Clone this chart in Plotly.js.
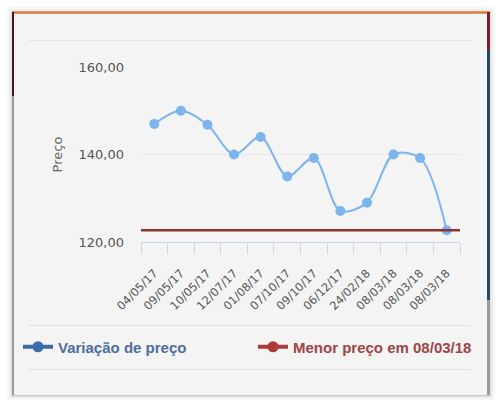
<!DOCTYPE html>
<html>
<head>
<meta charset="utf-8">
<script src="https://cdn.plot.ly/plotly-3.0.1.min.js"></script>
<style>html,body{margin:0;padding:0;background:#fff}#chart{width:500px;height:404px}</style>
</head>
<body>
<div id="chart"></div>
<script>
// ---- data ----
const datas = ['04/05/17','09/05/17','10/05/17','12/07/17','01/08/17','07/10/17','09/10/17','06/12/17','24/02/18','08/03/18','08/03/18','08/03/18'];
const precos = [147.0, 150.0, 146.8, 140.0, 144.0, 135.0, 139.2, 127.1, 129.0, 140.0, 139.2, 122.7];
const menorPreco = 122.7;
const yTicks = [120, 140, 160];
const nomeSerie = 'Variação de preço';
const nomeMenor = 'Menor preço em 08/03/18';

// ---- geometry helpers (layout only) ----
const Wd = 500, Ht = 404;
const mL = 141, mR = 40, mT = 67, mB = 162;
const PW = Wd - mL - mR, PH = Ht - mT - mB;
const fx = px => (px - mL) / PW;
const fy = py => (Ht - mB - py) / PH;

const idx = datas.map((d, i) => i);

const traces = [
  {
    x: idx, y: precos, type: 'scatter', mode: 'lines+markers',
    line: {color: '#7cb5ec', width: 2, shape: 'spline', smoothing: 0.9},
    marker: {color: '#7cb5ec', size: 10},
    showlegend: false, hoverinfo: 'skip'
  },
  {
    x: [null], y: [null], type: 'scatter', mode: 'lines+markers', legend: 'legend',
    name: '<b><span style="color:#4d6e9c">' + nomeSerie + '</span></b>',
    line: {color: '#3a6ca8', width: 4}, marker: {color: '#3a6ca8', size: 11}
  },
  {
    x: [null], y: [null], type: 'scatter', mode: 'lines+markers', legend: 'legend2',
    name: '<b><span style="color:#9c4646">' + nomeMenor + '</span></b>',
    line: {color: '#b03a3a', width: 4}, marker: {color: '#b03a3a', size: 11}
  }
];

function rect(x0, y0, x1, y1, fill) {
  return {type: 'rect', xref: 'paper', yref: 'paper', x0: fx(x0), x1: fx(x1), y0: fy(y1), y1: fy(y0),
          fillcolor: fill, line: {width: 0}, layer: 'below'};
}
function hline(x0, x1, y, color, w) {
  return {type: 'line', xref: 'paper', yref: 'paper', x0: fx(x0), x1: fx(x1), y0: fy(y), y1: fy(y),
          line: {color: color, width: w}, layer: 'below'};
}
function vline(x, y0, y1, color, w) {
  return {type: 'line', xref: 'paper', yref: 'paper', x0: fx(x), x1: fx(x), y0: fy(y0), y1: fy(y1),
          line: {color: color, width: w}, layer: 'below'};
}

const shapes = [
  rect(7, 7, 495, 400, 'rgba(0,0,0,0.03)'),
  rect(9, 9, 493, 398, 'rgba(0,0,0,0.04)'),
  rect(11, 11, 491, 397, 'rgba(0,0,0,0.06)'),
  rect(12, 12, 490, 396, '#f4f4f4'),
  hline(12, 490, 12.5, '#e6a070', 3),
  hline(12, 490, 12.5, '#d9793a', 1.5),
  vline(13, 12, 96, '#4c1519', 2),
  vline(13, 96, 396, '#9a9a9a', 2),
  vline(488.5, 12, 50, '#7d1c2d', 3),
  vline(488.5, 50, 300, '#1f4c68', 3),
  vline(488.5, 300, 396, '#9a9a9a', 3),
  hline(12, 490, 395.5, '#c8c8c8', 1),
  hline(29, 471, 40.5, '#e3e3e3', 1),
  hline(28, 471, 325.5, '#e3e3e3', 1),
  hline(28, 471, 369.5, '#e3e3e3', 1),
  {type: 'line', xref: 'paper', yref: 'y', x0: 0, x1: 1, y0: menorPreco, y1: menorPreco,
   line: {color: '#8a3434', width: 2.5}, layer: 'above'}
];

const legFont = {family: 'Liberation Sans, Arial, sans-serif', size: 15};

const layout = {
  width: Wd, height: Ht,
  margin: {l: mL, r: mR, t: mT, b: mB, pad: 0},
  paper_bgcolor: '#ffffff',
  plot_bgcolor: 'rgba(0,0,0,0)',
  separators: ', ',
  font: {family: 'DejaVu Sans, Verdana, sans-serif', color: '#555'},
  showlegend: true,
  legend: {
    orientation: 'h', x: fx(18), xanchor: 'left', y: fy(347), yanchor: 'middle',
    bgcolor: 'rgba(0,0,0,0)', font: legFont, itemwidth: 30
  },
  legend2: {
    orientation: 'h', x: fx(253), xanchor: 'left', y: fy(347), yanchor: 'middle',
    bgcolor: 'rgba(0,0,0,0)', font: legFont, itemwidth: 30
  },
  xaxis: {
    type: 'linear', range: [-0.5, datas.length - 0.5], fixedrange: true,
    tickmode: 'array', tickvals: idx, ticktext: datas, tickangle: -45,
    ticks: 'outside', ticklen: 19, tickcolor: 'rgba(0,0,0,0)',
    tickfont: {size: 11.5, color: '#555'},
    minor: {tick0: -0.5, dtick: 1, ticks: 'outside', ticklen: 11, tickcolor: '#ccd6eb', tickwidth: 1, showgrid: false},
    showgrid: false, zeroline: false, showline: true, linecolor: '#ccd6eb', linewidth: 1
  },
  yaxis: {
    range: [yTicks[0], yTicks[yTicks.length - 1]], fixedrange: true,
    tickmode: 'array', tickvals: yTicks, tickformat: '.2f',
    tickfont: {size: 13, color: '#555'}, ticklabelstandoff: 16,
    gridcolor: '#e6e6e6', gridwidth: 1, zeroline: false, showline: false,
    title: {text: 'Preço', font: {size: 13, color: '#666'}, standoff: 12}
  },
  shapes: shapes
};

Plotly.newPlot('chart', traces, layout, {displayModeBar: false, staticPlot: true});
</script>
</body>
</html>
